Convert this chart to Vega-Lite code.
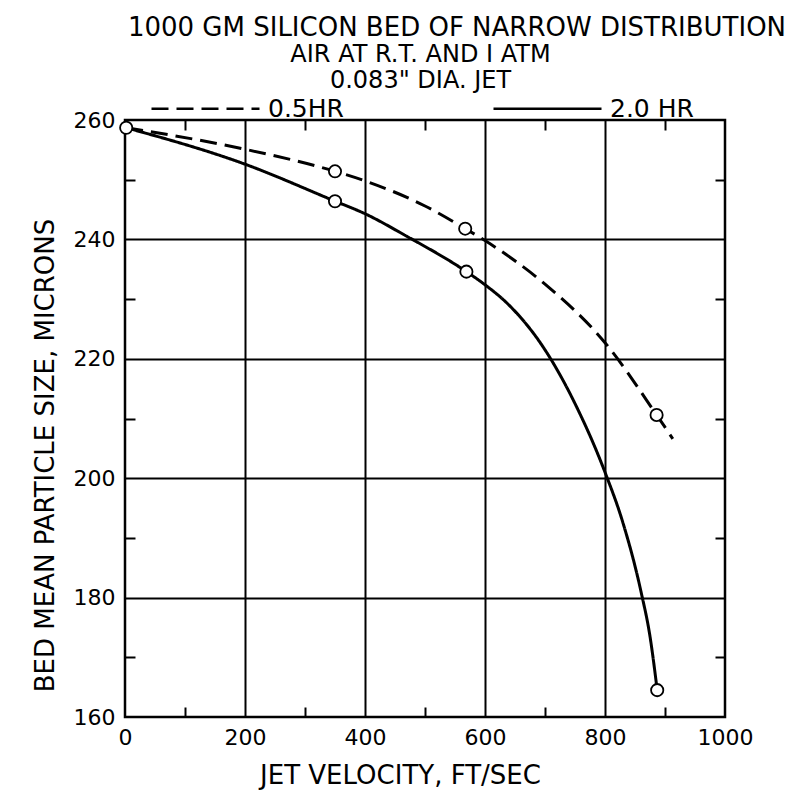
{
  "$schema": "https://vega.github.io/schema/vega-lite/v6.json",
  "width": 600,
  "height": 597,
  "autosize": {"type": "none"},
  "padding": {"left": 125, "top": 120, "right": 74, "bottom": 81},
  "background": "white",
  "config": {
    "font": "DejaVu Sans",
    "view": {"stroke": "black", "strokeWidth": 2.5},
    "axis": {"labelColor": "black", "titleColor": "black", "labelFont": "DejaVu Sans", "titleFont": "DejaVu Sans", "titleFontWeight": "normal"}
  },
  "title": {
    "text": "1000 GM  SILICON BED OF NARROW DISTRIBUTION",
    "font": "DejaVu Sans",
    "fontSize": 26,
    "fontWeight": "normal",
    "color": "black",
    "anchor": "middle",
    "frame": "group",
    "dx": 32,
    "offset": 1
  },
  "datasets": {
    "curves": [
      {"series": "0.5HR", "v": 2, "size": 258.7},
      {"series": "0.5HR", "v": 200, "size": 255.1},
      {"series": "0.5HR", "v": 350, "size": 251.4},
      {"series": "0.5HR", "v": 400, "size": 249.8},
      {"series": "0.5HR", "v": 500, "size": 245.6},
      {"series": "0.5HR", "v": 567, "size": 241.8},
      {"series": "0.5HR", "v": 600, "size": 239.8},
      {"series": "0.5HR", "v": 700, "size": 232.5},
      {"series": "0.5HR", "v": 800, "size": 222.7},
      {"series": "0.5HR", "v": 886, "size": 210.6},
      {"series": "0.5HR", "v": 913, "size": 206.6},
      {"series": "2.0 HR", "v": 2, "size": 258.7},
      {"series": "2.0 HR", "v": 200, "size": 252.6},
      {"series": "2.0 HR", "v": 350, "size": 246.4},
      {"series": "2.0 HR", "v": 400, "size": 244.3},
      {"series": "2.0 HR", "v": 470, "size": 240.5},
      {"series": "2.0 HR", "v": 569, "size": 234.6},
      {"series": "2.0 HR", "v": 600, "size": 232.4},
      {"series": "2.0 HR", "v": 640, "size": 229},
      {"series": "2.0 HR", "v": 700, "size": 221.5},
      {"series": "2.0 HR", "v": 750, "size": 212.5},
      {"series": "2.0 HR", "v": 800, "size": 201},
      {"series": "2.0 HR", "v": 830, "size": 192.5},
      {"series": "2.0 HR", "v": 860, "size": 181},
      {"series": "2.0 HR", "v": 875, "size": 173.5},
      {"series": "2.0 HR", "v": 887, "size": 164.5}
    ],
    "points": [
      {"series": "both", "v": 2, "size": 258.7},
      {"series": "0.5HR", "v": 350, "size": 251.4},
      {"series": "0.5HR", "v": 567, "size": 241.8},
      {"series": "0.5HR", "v": 886, "size": 210.6},
      {"series": "2.0 HR", "v": 350, "size": 246.4},
      {"series": "2.0 HR", "v": 569, "size": 234.6},
      {"series": "2.0 HR", "v": 887, "size": 164.5}
    ]
  },
  "layer": [
    {
      "data": {"name": "curves"},
      "mark": {"type": "line", "color": "black", "strokeWidth": 3, "interpolate": "monotone"},
      "encoding": {
        "x": {
          "field": "v", "type": "quantitative",
          "scale": {"domain": [0, 1000], "nice": false, "zero": false},
          "axis": {
            "orient": "bottom",
            "title": "JET VELOCITY, FT/SEC",
            "titleFontSize": 26,
            "titleX": 275,
            "titleY": 58,
            "titleBaseline": "middle",
            "values": [0, 100, 200, 300, 400, 500, 600, 700, 800, 900, 1000],
            "format": "d",
            "labelExpr": "datum.value % 200 == 0 ? datum.label : ''",
            "labelFontSize": 22,
            "labelPadding": 20,
            "labelFlush": false,
            "labelOverlap": false,
            "domain": false,
            "grid": true,
            "gridColor": "black",
            "gridWidth": 2,
            "gridOpacity": {"condition": {"test": "datum.value % 200 != 0 || datum.value == 0 || datum.value == 1000", "value": 0}, "value": 1},
            "ticks": true,
            "tickSize": -10,
            "tickWidth": 2,
            "tickColor": "black",
            "tickOpacity": {"condition": {"test": "datum.value % 200 == 0", "value": 0}, "value": 1}
          }
        },
        "y": {
          "field": "size", "type": "quantitative",
          "scale": {"domain": [160, 260], "nice": false, "zero": false},
          "axis": {
            "orient": "left",
            "title": "BED MEAN PARTICLE SIZE, MICRONS",
            "titleFontSize": 26,
            "titleAngle": 270,
            "titleX": -80,
            "titleY": 335,
            "titleBaseline": "middle",
            "titleAlign": "center",
            "values": [160, 170, 180, 190, 200, 210, 220, 230, 240, 250, 260],
            "labelExpr": "datum.value % 20 == 0 ? datum.label : ''",
            "labelFontSize": 22,
            "labelPadding": 20,
            "labelFlush": false,
            "labelOverlap": false,
            "domain": false,
            "grid": true,
            "gridColor": "black",
            "gridWidth": 2,
            "gridOpacity": {"condition": {"test": "datum.value % 20 != 0 || datum.value == 160 || datum.value == 260", "value": 0}, "value": 1},
            "ticks": true,
            "tickSize": -10,
            "tickWidth": 2,
            "tickColor": "black",
            "tickOpacity": {"condition": {"test": "datum.value % 20 == 0", "value": 0}, "value": 1}
          }
        },
        "strokeDash": {
          "field": "series", "type": "nominal",
          "scale": {"domain": ["0.5HR", "2.0 HR"], "range": [[17, 8], [1, 0]]},
          "legend": {
            "orient": "none",
            "legendX": 25,
            "legendY": -67,
            "direction": "horizontal",
            "title": null,
            "padding": 0,
            "symbolType": "stroke",
            "symbolSize": 11664,
            "symbolStrokeWidth": 2.5,
            "symbolStrokeColor": "black",
            "labelFontSize": 25,
            "labelFont": "DejaVu Sans",
            "labelColor": "black",
            "labelOffset": 7,
            "columnPadding": 144
          }
        }
      }
    },
    {
      "data": {"name": "points"},
      "mark": {"type": "point", "shape": "circle", "filled": false, "fill": "white", "fillOpacity": 1, "stroke": "black", "strokeWidth": 1.8, "size": 150, "opacity": 1},
      "encoding": {
        "x": {
          "field": "v", "type": "quantitative",
          "axis": {
            "orient": "top",
            "title": ["AIR AT R.T. AND I ATM", "0.083\" DIA. JET"],
            "titleFontSize": 24,
            "titleLineHeight": 26,
            "titleX": 295,
            "titleY": -78,
            "titleBaseline": "top",
            "titleAlign": "center",
            "labels": false, "grid": false, "domain": false,
            "values": [100, 300, 500, 700, 900],
            "tickSize": -10, "tickWidth": 2, "tickColor": "black"
          }
        },
        "y": {
          "field": "size", "type": "quantitative",
          "axis": {
            "orient": "right", "title": null, "labels": false, "grid": false, "domain": false,
            "values": [170, 190, 210, 230, 250],
            "tickSize": -10, "tickWidth": 2, "tickColor": "black"
          }
        }
      }
    }
  ],
  "resolve": {"axis": {"x": "independent", "y": "independent"}}
}
